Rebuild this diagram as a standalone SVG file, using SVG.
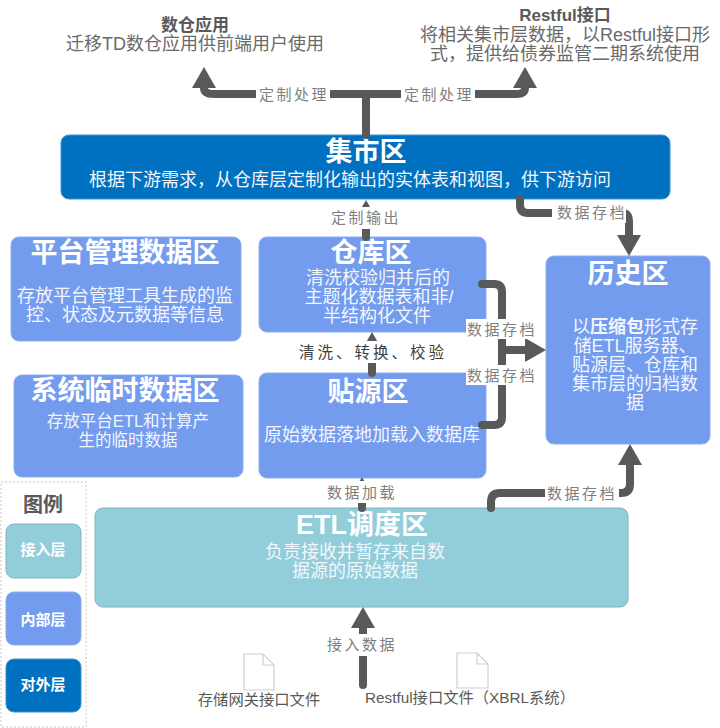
<svg xmlns="http://www.w3.org/2000/svg" width="720" height="728" viewBox="0 0 720 728">
<style>
text{font-family:"Liberation Sans","Noto Sans CJK SC",sans-serif;text-anchor:middle}
.t{font-size:27px;font-weight:700;fill:#fff}
.b{font-size:18px;fill:#f2f6fd}
.s{font-size:16.5px}
.h{font-size:18px;fill:#6a6a6a}
.hb{font-size:17px;font-weight:700;fill:#595959}
.l{font-size:15px;fill:#7f7f7f;letter-spacing:2.5px}
.leg{font-size:15px;font-weight:700;fill:#fff}
.in{fill:#749cee;stroke:#8aaef2;stroke-width:1}
.ac{fill:#92cdda;stroke:#7fb6c2;stroke-width:1}
.ex{fill:#0070c0;stroke:#3d93d0;stroke-width:1}
.c{fill:none;stroke:#595959;stroke-width:8;stroke-linecap:round;stroke-linejoin:round}
.a{marker-end:url(#head)}
.m{fill:#fff}
.doc{fill:#fff;stroke:#cfcfcf;stroke-width:1.2}
.f{font-size:15.3px;fill:#595959}
</style>
<defs>
<marker id="head" markerUnits="userSpaceOnUse" markerWidth="22" markerHeight="26" refX="0" refY="13" orient="auto">
<path d="M0,1 L21,13 L0,25 Z" fill="#595959"/>
</marker>
</defs>
<rect width="720" height="728" fill="#fff"/>

<g id="app-dw">
<text class="hb" x="195" y="31">数仓应用</text>
<text class="h" x="195" y="50">迁移TD数仓应用供前端用户使用</text>
</g>
<g id="app-restful">
<text class="hb" x="565" y="21">Restful接口</text>
<text class="h" x="565" y="41">将相关集市层数据，以Restful接口形</text>
<text class="h" x="565" y="60">式，提供给债券监管二期系统使用</text>
</g>
<g id="mart">
<rect class="ex" x="61" y="135" width="609" height="64" rx="8"/>
<text class="t" x="366" y="161">集市区</text>
<text class="b" x="350" y="186">根据下游需求，从仓库层定制化输出的实体表和视图，供下游访问</text>
</g>
<g id="platform">
<rect class="in" x="11" y="237" width="230" height="104" rx="8"/>
<text class="t" x="125" y="262">平台管理数据区</text>
<text class="b" x="125" y="302">存放平台管理工具生成的监</text>
<text class="b" x="125" y="321">控、状态及元数据等信息</text>
</g>
<g id="warehouse">
<rect class="in" x="259" y="237" width="227" height="95" rx="8"/>
<text class="t" x="371" y="262">仓库区</text>
<text class="b" x="378" y="284">清洗校验归并后的</text>
<text class="b" x="379" y="303">主题化数据表和非/</text>
<text class="b" x="377" y="322">半结构化文件</text>
</g>
<g id="temp">
<rect class="in" x="14" y="375" width="229" height="102" rx="8"/>
<text class="t" x="125" y="400">系统临时数据区</text>
<text class="b s" x="128" y="427">存放平台ETL和计算产</text>
<text class="b s" x="128" y="446">生的临时数据</text>
</g>
<g id="source">
<rect class="in" x="259" y="373" width="227" height="105" rx="8"/>
<text class="t" x="368" y="401">贴源区</text>
<text class="b" x="372" y="441">原始数据落地加载入数据库</text>
</g>
<g id="history">
<rect class="in" x="546" y="256" width="164" height="188" rx="8"/>
<text class="t" x="628" y="283">历史区</text>
<text class="b" x="635" y="333">以<tspan font-weight="700">压缩包</tspan>形式存</text>
<text class="b" x="635" y="352">储ETL服务器、</text>
<text class="b" x="635" y="371">贴源层、仓库和</text>
<text class="b" x="635" y="390">集市层的归档数</text>
<text class="b" x="635" y="409">据</text>
</g>
<g id="etl">
<rect class="ac" x="95" y="508" width="533" height="99" rx="8"/>
<text class="t" x="362" y="534">ETL调度区</text>
<text class="b" x="355" y="558">负责接收并暂存来自数</text>
<text class="b" x="355" y="577">据源的原始数据</text>
</g>
<g id="legend">
<rect x="1" y="482" width="85" height="245" fill="none" stroke="#c8c8c8" stroke-width="1" stroke-dasharray="2 2"/>
<text x="43" y="512" style="font-size:20px;font-weight:700;fill:#595959">图例</text>
<rect class="ac" x="6" y="524" width="75" height="54" rx="8"/>
<text class="leg" x="43" y="555">接入层</text>
<rect class="in" x="6" y="592" width="75" height="53" rx="8"/>
<text class="leg" x="43" y="625">内部层</text>
<rect class="ex" x="6" y="659" width="75" height="53" rx="8"/>
<text class="leg" x="43" y="690">对外层</text>
</g>
<g id="file-gateway">
<path class="doc" d="M244,654 H263 L274,665 V690 H244 Z M263,654 V665 H274"/>
<text class="f" x="259" y="705">存储网关接口文件</text>
</g>
<g id="file-restful">
<path class="doc" d="M457,653 H477 L488,664 V688 H457 Z M477,653 V664 H488"/>
<text class="f" x="470" y="703">Restful接口文件（XBRL系统）</text>
</g>

<g id="connectors">
<path class="c a" d="M366,135 V94 H214 Q204,94 204,88"/>
<path class="c a" d="M366,94 H516 Q525,94 525,88"/>
<path class="c a" d="M520,199 V205 Q520,213 528,213 H622 Q629,213 629,222 V235"/>
<path class="c a" d="M366,237 V221"/>
<path class="c a" d="M372,373 V353"/>
<path class="c a" d="M362,508 V498"/>
<path class="c" d="M482,284 H494 Q502,284 502,292 V417 Q502,425 494,425 H482"/>
<path class="c a" d="M502,350 H525"/>
<path class="c a" d="M491,508 V502 Q491,493 500,493 H621 Q630,493 630,484 V465"/>
<path class="c a" d="M363,685 V628"/>
<rect class="m" x="256" y="84" width="74" height="21"/>
<text class="l" x="294" y="100">定制处理</text>
<rect class="m" x="401" y="84" width="74" height="21"/>
<text class="l" x="439" y="100">定制处理</text>
<rect class="m" x="552" y="203" width="74" height="20"/>
<text class="l" x="592" y="218">数据存档</text>
<rect class="m" x="329" y="207" width="74" height="22"/>
<text class="l" x="366" y="223">定制输出</text>
<rect class="m" x="296" y="341" width="154" height="22"/>
<text x="373" y="358" style="font-size:15.5px;fill:#404040;letter-spacing:3px">清洗、转换、校验</text>
<rect class="m" x="466" y="319" width="71" height="20"/>
<text class="l" x="502" y="335">数据存档</text>
<rect class="m" x="466" y="365" width="71" height="20"/>
<text class="l" x="502" y="381">数据存档</text>
<rect class="m" x="325" y="481" width="74" height="22"/>
<text class="l" x="362" y="498">数据加载</text>
<rect class="m" x="545" y="484" width="74" height="19"/>
<text class="l" x="582" y="499">数据存档</text>
<rect class="m" x="325" y="634" width="74" height="22"/>
<text class="l" x="362" y="650">接入数据</text>
</g>
</svg>
